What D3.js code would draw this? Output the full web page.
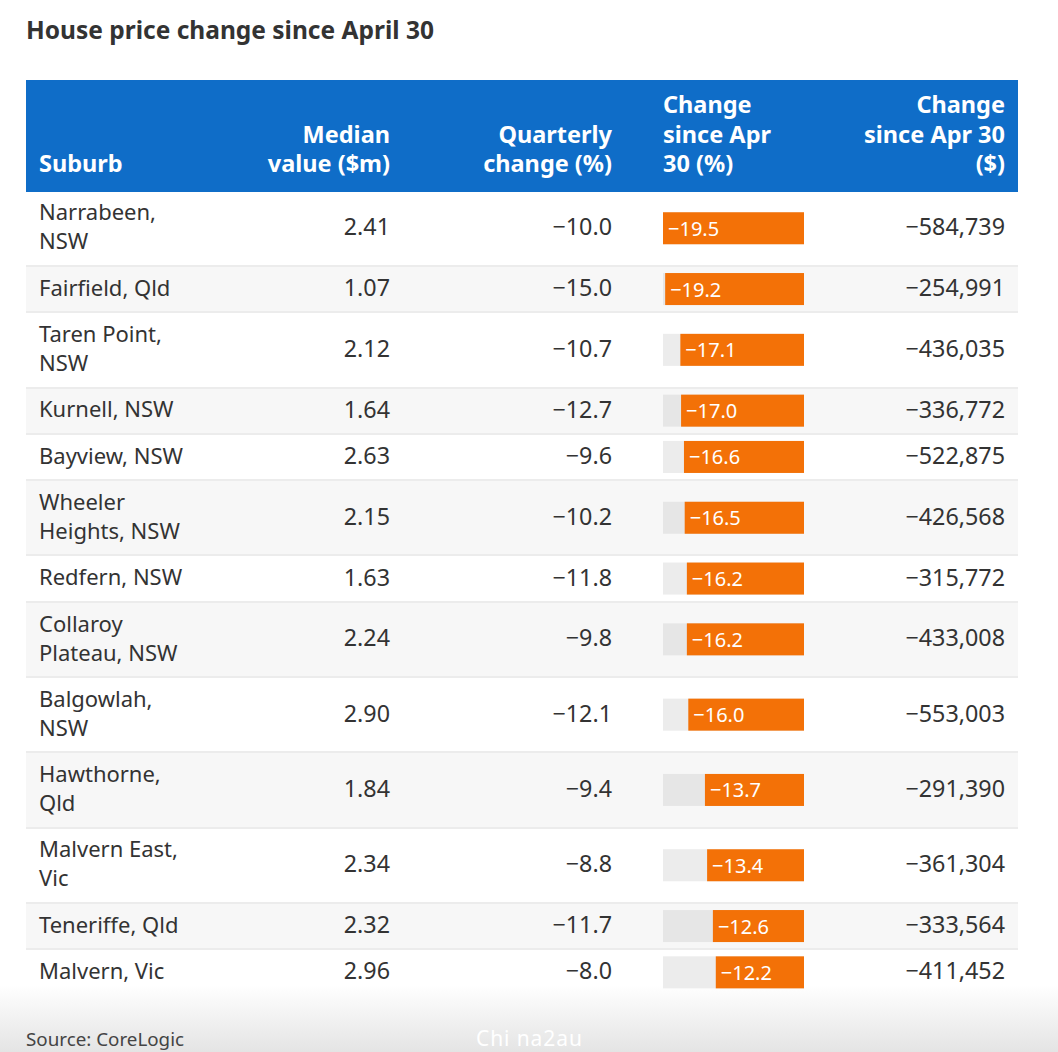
<!DOCTYPE html>
<html>
<head>
<meta charset="utf-8">
<script src="https://cdn.jsdelivr.net/npm/d3@7"></script>
<style>
  html, body { margin: 0; padding: 0; background: #fff; overflow: hidden; }
  svg { display: block; }
  text { font-family: "Noto Sans", sans-serif; }
</style>
</head>
<body>
<div id="chart"></div>
<script>
// data
const titleText = "House price change since April 30";
const sourceText = "Source: CoreLogic";
const watermark = "Chi na2au";

const headers = [
  ["Suburb"],
  ["Median", "value ($m)"],
  ["Quarterly", "change (%)"],
  ["Change", "since Apr", "30 (%)"],
  ["Change", "since Apr 30", "($)"]
];
const suburbs = [
  ["Narrabeen,", "NSW"],
  ["Fairfield, Qld"],
  ["Taren Point,", "NSW"],
  ["Kurnell, NSW"],
  ["Bayview, NSW"],
  ["Wheeler", "Heights, NSW"],
  ["Redfern, NSW"],
  ["Collaroy", "Plateau, NSW"],
  ["Balgowlah,", "NSW"],
  ["Hawthorne,", "Qld"],
  ["Malvern East,", "Vic"],
  ["Teneriffe, Qld"],
  ["Malvern, Vic"]
];
const medianValue = [2.41, 1.07, 2.12, 1.64, 2.63, 2.15, 1.63, 2.24, 2.90, 1.84, 2.34, 2.32, 2.96];
const quarterlyChange = [-10.0, -15.0, -10.7, -12.7, -9.6, -10.2, -11.8, -9.8, -12.1, -9.4, -8.8, -11.7, -8.0];
const changePct = [-19.5, -19.2, -17.1, -17.0, -16.6, -16.5, -16.2, -16.2, -16.0, -13.7, -13.4, -12.6, -12.2];
const changeDollar = [-584739, -254991, -436035, -336772, -522875, -426568, -315772, -433008, -553003, -291390, -361304, -333564, -411452];

const width = 1058, height = 1052;
const left = 26, right = 1018;
const headTop = 80, headBottom = 192;
const rowTall = 75.3, rowShort = 46.3;
const lineH = 29.5;

const svg = d3.select("#chart").append("svg")
  .attr("width", width)
  .attr("height", height)
  .attr("viewBox", [0, 0, width, height]);

// grey fade at the bottom of the screenshot
const grad = svg.append("defs").append("linearGradient")
  .attr("id", "fade").attr("x1", 0).attr("x2", 0).attr("y1", 0).attr("y2", 1);
grad.append("stop").attr("offset", "0%").attr("stop-color", "#fff");
grad.append("stop").attr("offset", "100%").attr("stop-color", "#e4e4e4");

svg.append("rect")
  .attr("x", 0).attr("y", 985)
  .attr("width", width).attr("height", height - 985)
  .attr("fill", "url(#fade)");

svg.append("text")
  .attr("x", 26).attr("y", 39)
  .attr("font-size", 24.5).attr("font-weight", 700).attr("fill", "#333")
  .text(titleText);

// rows (first one starts a little under the header)
let y = headBottom - 1.4;
const rows = suburbs.map((s, i) => {
  const h = s.length > 1 ? rowTall : rowShort;
  const r = { i, top: y, h, mid: y + h / 2 };
  y += h;
  return r;
});

const columnX = [39, 390, 612, 663, 1005];
const columnAnchor = ["start", "end", "end", "start", "end"];

const minus = s => s.replace("-", "\u2212");
const fmtDollar = d3.format(",");

const barX = d3.scaleLinear().domain([0, -19.5]).range([0, 141]);
const barRight = 804, barH = 32;

const row = svg.append("g").selectAll("g")
  .data(rows)
  .join("g");

row.append("rect")
  .attr("x", left).attr("y", d => d.top)
  .attr("width", right - left).attr("height", d => d.h)
  .attr("fill", d => d.i % 2 ? "#f7f7f7" : (d.i === rows.length - 1 ? "none" : "#fff"));

// borders after every background, so the next row does not hide them
svg.append("g").selectAll("rect")
  .data(rows.slice(0, -1))
  .join("rect")
  .attr("x", left).attr("y", d => Math.round(d.top + d.h - 1))
  .attr("width", right - left).attr("height", 2)
  .attr("fill", "#ececec");

const cells = svg.append("g").selectAll("g")
  .data(rows)
  .join("g");

cells.append("text")
  .attr("font-size", 22).attr("fill", "#333")
  .selectAll("tspan")
  .data(d => suburbs[d.i].map((t, j) => ({ t, j, n: suburbs[d.i].length, mid: d.mid })))
  .join("tspan")
  .attr("x", columnX[0])
  .attr("y", d => d.mid + 6.7 + (d.j - (d.n - 1) / 2) * 29)
  .text(d => d.t);

function cell(col, fn) {
  cells.append("text")
    .attr("x", columnX[col])
    .attr("y", d => d.mid + 7)
    .attr("text-anchor", "end")
    .attr("font-size", 23.3).attr("fill", "#333")
    .text(d => fn(d.i));
}
cell(1, i => medianValue[i].toFixed(2));
cell(2, i => minus(quarterlyChange[i].toFixed(1)));
cell(4, i => minus(fmtDollar(changeDollar[i])));

cells.append("rect")
  .attr("x", barRight - barX(-19.5))
  .attr("y", d => d.mid - barH / 2)
  .attr("width", barX(-19.5)).attr("height", barH)
  .attr("fill", d => d.i % 2 ? "#e6e6e6" : "#ececec");

cells.append("rect")
  .attr("x", d => barRight - barX(changePct[d.i]))
  .attr("y", d => d.mid - barH / 2)
  .attr("width", d => barX(changePct[d.i])).attr("height", barH)
  .attr("fill", "#f37107");

cells.append("text")
  .attr("x", d => barRight - barX(changePct[d.i]) + 5)
  .attr("y", d => d.mid + 7.5)
  .attr("font-size", 20).attr("fill", "#fff")
  .text(d => minus(changePct[d.i].toFixed(1)));

// header goes over the rows
svg.append("rect")
  .attr("x", left).attr("y", headTop)
  .attr("width", right - left).attr("height", headBottom - headTop)
  .attr("fill", "#0f6dc8");

headers.forEach((lines, i) => {
  svg.append("text")
    .attr("text-anchor", columnAnchor[i])
    .attr("font-size", 23.5).attr("font-weight", 700).attr("fill", "#fff")
    .selectAll("tspan")
    .data(lines)
    .join("tspan")
    .attr("x", columnX[i])
    .attr("y", (d, j) => 172 - (lines.length - 1 - j) * lineH)
    .text(d => d);
});

// footer
svg.append("text")
  .attr("x", 26).attr("y", 1046)
  .attr("font-size", 18.8).attr("fill", "#444")
  .text(sourceText);

svg.append("text")
  .attr("x", 476).attr("y", 1045.5)
  .attr("font-size", 21).attr("letter-spacing", 0.9).attr("fill", "#fff")
  .text(watermark);
</script>
</body>
</html>
